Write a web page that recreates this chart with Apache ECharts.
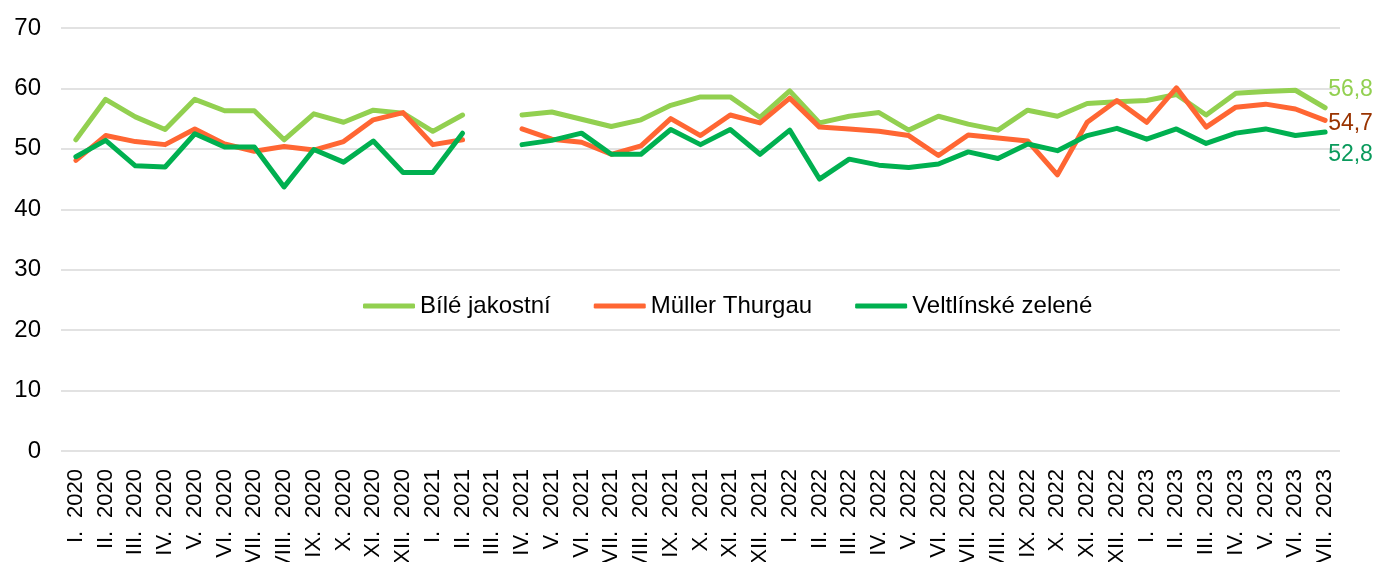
<!DOCTYPE html>
<html>
<head>
<meta charset="utf-8">
<script src="https://cdn.jsdelivr.net/npm/echarts@6/dist/echarts.min.js"></script>
<style>
html,body{margin:0;padding:0;background:#fff;}
#chart{width:1379px;height:562px;}
</style>
</head>
<body>
<div id="chart"></div>
<script>
const categories = [
  'I. 2020','II. 2020','III. 2020','IV. 2020','V. 2020','VI. 2020','VII. 2020','VIII. 2020','IX. 2020','X. 2020','XI. 2020','XII. 2020',
  'I. 2021','II. 2021','III. 2021','IV. 2021','V. 2021','VI. 2021','VII. 2021','VIII. 2021','IX. 2021','X. 2021','XI. 2021','XII. 2021',
  'I. 2022','II. 2022','III. 2022','IV. 2022','V. 2022','VI. 2022','VII. 2022','VIII. 2022','IX. 2022','X. 2022','XI. 2022','XII. 2022',
  'I. 2023','II. 2023','III. 2023','IV. 2023','V. 2023','VI. 2023','VII. 2023'
];
const bileJakostni = [
  51.5,58.2,55.3,53.2,58.2,56.3,56.3,51.5,55.8,54.4,56.4,55.9,
  52.9,55.6,null,55.6,56.1,54.9,53.7,54.8,57.2,58.6,58.6,55.2,
  59.6,54.3,55.4,56.0,53.1,55.4,54.1,53.1,56.4,55.4,57.5,57.8,
  58.0,59.0,55.6,59.2,59.5,59.7,56.8
];
const mullerThurgau = [
  48.1,52.2,51.2,50.7,53.3,50.8,49.6,50.4,49.8,51.2,54.8,56.0,
  50.7,51.5,null,53.3,51.6,51.1,49.1,50.5,55.0,52.2,55.6,54.3,
  58.4,53.6,53.3,52.9,52.2,48.9,52.3,51.8,51.3,45.7,54.4,58.0,
  54.4,60.1,53.6,56.9,57.4,56.6,54.7
];
const veltlinske = [
  48.7,51.4,47.2,47.0,52.5,50.3,50.3,43.7,49.9,47.8,51.3,46.1,
  46.1,52.6,null,50.7,51.4,52.6,49.1,49.1,53.2,50.7,53.2,49.1,
  53.1,45.0,48.3,47.3,46.9,47.5,49.5,48.4,50.8,49.7,52.2,53.4,
  51.6,53.3,50.9,52.6,53.3,52.2,52.8
];
const seriesNames = ['Bílé jakostní','Müller Thurgau','Veltlínské zelené'];
const endLabels = ['56,8','54,7','52,8'];

const FONT = "'Liberation Sans', Arial, sans-serif";
const chart = echarts.init(document.getElementById('chart'), null, {renderer:'canvas'});

function mkSeries(name, data, color, labelText, labelColor, offset){
  return {
    name: name, type: 'line', data: data, symbol: 'none', connectNulls: false,
    lineStyle: {color: color, width: 5, cap: 'round', join: 'round'},
    itemStyle: {color: color},
    emphasis: {disabled: true},
    endLabel: {show: true, formatter: labelText, color: labelColor, fontSize: 23,
               fontFamily: FONT, distance: 3, offset: offset},
    animation: false
  };
}

chart.setOption({
  animation: false,
  grid: {left: 61, right: 39, top: 28, bottom: 111, containLabel: false, outerBoundsMode: 'none'},
  legend: {
    left: 358, top: 289, itemWidth: 52, itemHeight: 5, itemGap: 43,
    icon: 'roundRect',
    textStyle: {fontSize: 24, fontFamily: FONT, color: '#000'},
    data: seriesNames
  },
  xAxis: {
    type: 'category', data: categories, boundaryGap: true,
    axisLine: {show: false}, axisTick: {show: false},
    axisLabel: {interval: 0, rotate: 90, fontSize: 22, fontFamily: FONT, color: '#000', margin: 18,
      formatter: function(v){ return v.replace(' ', '\u2002\u200A'); }}
  },
  yAxis: {
    type: 'value', min: 0, max: 70, interval: 10,
    axisLine: {show: false}, axisTick: {show: false},
    axisLabel: {fontSize: 24, fontFamily: FONT, color: '#000', margin: 20},
    splitLine: {lineStyle: {color: '#D9D9D9', width: 1.5}}
  },
  series: [
    mkSeries(seriesNames[0], bileJakostni, '#92D050', endLabels[0], '#92D050', [0, -18]),
    mkSeries(seriesNames[1], mullerThurgau, '#FF6633', endLabels[1], '#993300', [0, 3]),
    mkSeries(seriesNames[2], veltlinske, '#00B050', endLabels[2], '#0A9A5C', [0, 23])
  ]
});
</script>
</body>
</html>
